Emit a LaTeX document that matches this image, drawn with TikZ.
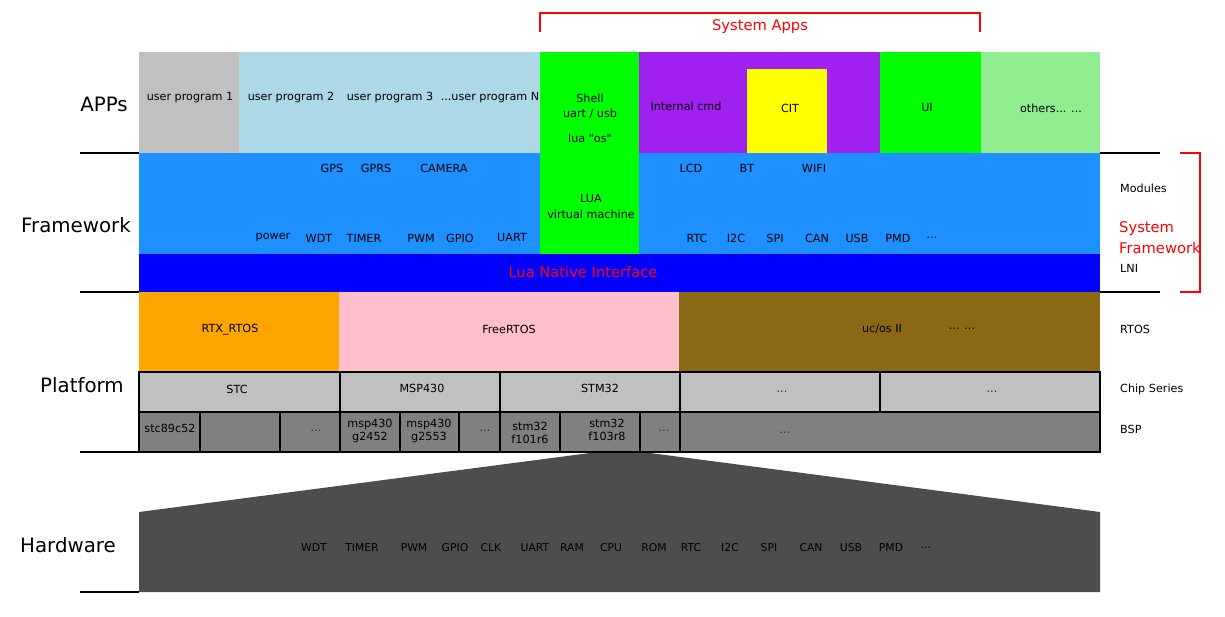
\documentclass[tikz,border=0pt]{standalone}
\usepackage{fontspec}
\setmainfont{DejaVu Sans}[Ligatures=TeXOff]
\definecolor{cgray}{HTML}{C0C0C0}
\definecolor{clblue}{HTML}{ADD8E6}
\definecolor{cgreen}{HTML}{00FF00}
\definecolor{cpurple}{HTML}{A020F0}
\definecolor{cyellow}{HTML}{FFFF00}
\definecolor{clgreen}{HTML}{90EE90}
\definecolor{cdodger}{HTML}{1E90FF}
\definecolor{cblue}{HTML}{0000FF}
\definecolor{corange}{HTML}{FFA500}
\definecolor{cpink}{HTML}{FFC0CB}
\definecolor{cbrown}{HTML}{8B6914}
\definecolor{cbsp}{HTML}{808080}
\definecolor{chw}{HTML}{4D4D4D}
\definecolor{cdots}{HTML}{1F2F55}
\definecolor{cred}{HTML}{FF0000}
\tikzset{
  t/.style={inner sep=0pt, font=\fontsize{11.2}{13.4}\selectfont, text=black, align=center},
  th/.style={inner sep=0pt, font=\fontsize{10.8}{12}\selectfont, text=black},
  big/.style={inner sep=0pt, font=\fontsize{19.8}{22}\selectfont, text=black},
  rl/.style={inner sep=0pt, font=\fontsize{14.7}{21}\selectfont, text=cred, align=left},
  side/.style={inner sep=0pt, anchor=west, font=\fontsize{11.2}{13.4}\selectfont, text=black},
  dt/.style={t, text=cdots},
  cellbox/.style={draw=black, line width=2pt},
  sep/.style={draw=black, line width=2pt},
  brk/.style={draw=cred, line width=2pt},
}
\begin{document}
\begin{tikzpicture}[x=1pt,y=-1pt]
\useasboundingbox (0,0) rectangle (1225,617);
% ---------- APPs row ----------
\fill[cgray]   (139,52) rectangle (239,153);
\fill[clblue]  (239,52) rectangle (541,153);
\fill[cpurple] (639,52) rectangle (880,153);
\fill[cyellow] (747,69) rectangle (827,153);
\fill[cgreen]  (880,52) rectangle (981,153);
\fill[clgreen] (981,52) rectangle (1100,153);
% ---------- Framework ----------
\fill[cdodger] (139,153) rectangle (1100,254);
\fill[cgreen]  (540,52) rectangle (639,254);
\fill[cblue]   (139,254) rectangle (1100,292);
% ---------- Platform ----------
\fill[corange] (139,292) rectangle (339,372);
\fill[cpink]   (339,292) rectangle (679,372);
\fill[cbrown]  (679,292) rectangle (1100,372);
% chip series
\path[cellbox, fill=cgray] (139,372) rectangle (340,412);
\path[cellbox, fill=cgray] (340,372) rectangle (500,412);
\path[cellbox, fill=cgray] (500,372) rectangle (680,412);
\path[cellbox, fill=cgray] (680,372) rectangle (880,412);
\path[cellbox, fill=cgray] (880,372) rectangle (1100,412);
% BSP
\foreach \a/\b in {139/200,200/280,280/340,340/400,400/459,459/500,500/560,560/640,640/680,680/1100}
  \path[cellbox, fill=cbsp] (\a,412) rectangle (\b,452);
% ---------- Hardware ----------
\fill[chw] (139,512) -- (590,453) -- (650,453) -- (1100,512) -- (1100,592) -- (139,592) -- cycle;
% ---------- separator lines ----------
\coordinate (l1a) at (80,153);  \coordinate (l1b) at (139,153);
\coordinate (l2a) at (80,292);  \coordinate (l2b) at (139,292);
\coordinate (l3a) at (80,452);  \coordinate (l3b) at (139,452);
\coordinate (l4a) at (80,592);  \coordinate (l4b) at (139,592);
\coordinate (r1a) at (1100,153); \coordinate (r1b) at (1160,153);
\coordinate (r2a) at (1100,292); \coordinate (r2b) at (1160,292);
\draw[sep] (l1a) -- (l1b);
\draw[sep] (l2a) -- (l2b);
\draw[sep] (l3a) -- (l3b);
\draw[sep] (l4a) -- (l4b);
\draw[sep] (r1a) -- (r1b);
\draw[sep] (r2a) -- (r2b);
% brackets
\coordinate (ba1) at (540,32); \coordinate (ba2) at (540,13);
\coordinate (ba3) at (980,13); \coordinate (ba4) at (980,32);
\draw[brk] (ba1) -- (ba2) -- (ba3) -- (ba4);
\coordinate (bf1) at (1180,153); \coordinate (bf2) at (1200,153);
\coordinate (bf3) at (1200,292); \coordinate (bf4) at (1180,292);
\draw[brk] (bf1) -- (bf2) -- (bf3) -- (bf4);
% ---------- labels ----------
\node[rl] (sysapps) at (760,27) {System Apps};
\node[big] (apps) at (104,104) {APPs};
\node[big] (fw) at (76,225) {Framework};
\node[big] (pf) at (82,385) {Platform};
\node[big] (hw) at (68,545) {Hardware};
\node[side] (smod) at (1120,188) {Modules};
\node[rl, anchor=west] (ssf) at (1119,238) {System\\Framework};
\node[side] (slni) at (1120,268) {LNI};
\node[side] (srtos) at (1120,329) {RTOS};
\node[side] (schip) at (1120,389) {Chip Series};
\node[side] (sbsp) at (1120,429) {BSP};
% APPs texts
\node[t] (up1) at (190,98) {user program 1};
\node[t] (up2) at (291,98) {user program 2};
\node[t] (up3) at (390,98) {user program 3};
\node[t] (upn) at (490,98) {...user program N};
\node[t] (shell) at (590,98) {Shell};
\node[t] (uart) at (590,114) {uart / usb};
\node[t] (luaos) at (590,138) {lua "os"};
\node[t] (icmd) at (686,106) {Internal cmd};
\node[t] (cit) at (790,108) {CIT};
\node[t] (ui) at (927,108) {UI};
\node[t] (oth) at (1051,108) {others... ...};
% Framework texts
\node[t] (gps) at (332,168) {GPS};
\node[t] (gprs) at (376,168) {GPRS};
\node[t] (cam) at (444,168) {CAMERA};
\node[t] (lcd) at (691,168) {LCD};
\node[t] (bt) at (747,168) {BT};
\node[t] (wifi) at (814,168) {WIFI};
\node[t] (lua) at (591,198) {LUA};
\node[t] (vm) at (591,214) {virtual machine};
\node[t] (pow) at (273,238) {power};
\node[t] (fwdt) at (319,238) {WDT};
\node[t] (ftim) at (364,238) {TIMER};
\node[t] (fpwm) at (421,238) {PWM};
\node[t] (fgpio) at (460,238) {GPIO};
\node[t] (fuart) at (512,237) {UART};
\node[t] (frtc) at (697,238) {RTC};
\node[t] (fi2c) at (736,238) {I2C};
\node[t] (fspi) at (775,238) {SPI};
\node[t] (fcan) at (817,238) {CAN};
\node[t] (fusb) at (857,238) {USB};
\node[t] (fpmd) at (898,238) {PMD};
\node[t] (fdots) at (932,238) {...};
\node[rl, align=center] (lni) at (583,272) {Lua Native Interface};
% Platform texts
\node[t] (rtx) at (230,330) {RTX\_RTOS};
\node[t] (free) at (509,329) {FreeRTOS};
\node[t] (ucos) at (882,329) {uc/os II};
\node[t] (udots) at (962,329) {... ...};
\node[t] (stc) at (237,389) {STC};
\node[t] (msp) at (422,388) {MSP430};
\node[t] (stm) at (600,388) {STM32};
\node[dt] (cd1) at (782,392) {...};
\node[dt] (cd2) at (992,392) {...};
\node[t] (b1) at (170,428) {stc89c52};
\node[dt] (bd1) at (316,431) {...};
\node[t] (b2) at (370,431) {msp430\\g2452};
\node[t] (b3) at (429,431) {msp430\\g2553};
\node[dt] (bd2) at (485,431) {...};
\node[t] (b4) at (530,433) {stm32\\f101r6};
\node[t] (b5) at (607,430) {stm32\\f103r8};
\node[dt] (bd3) at (664,431) {...};
\node[dt] (bd4) at (785,433) {...};
% Hardware texts
\foreach \n/\x/\s in {h1/314/WDT,h2/362/TIMER,h3/414/PWM,h4/455/GPIO,h5/491/CLK,h6/535/UART,h7/572/RAM,h8/611/CPU,h9/654/ROM,h10/691/RTC,h11/730/I2C,h12/769/SPI,h13/811/CAN,h14/851/USB,h15/891/PMD}
  \node[th] (\n) at (\x,548) {\s};
\node[th] (h16) at (926,548) {...};
\end{tikzpicture}
\end{document}
